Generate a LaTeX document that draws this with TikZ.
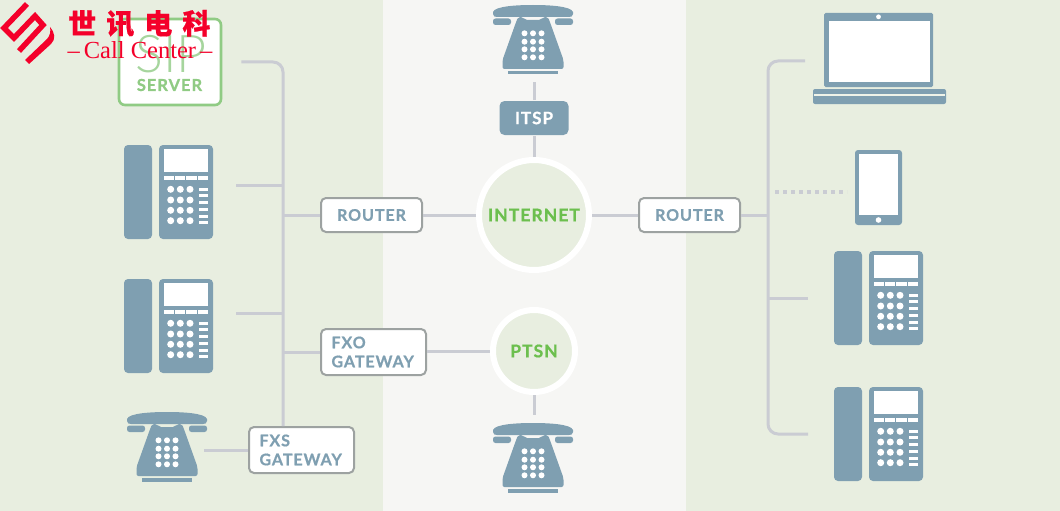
\documentclass[tikz,border=0pt]{standalone}
\usepackage{fontspec}
\setmainfont{Lato}
\newfontfamily\lblfont[LetterSpace=6, BoldFeatures={FakeBold=0.8}]{Lato}
\newfontfamily\lightfont{Lato Light}
\newfontfamily\cjkfont[LetterSpace=36, BoldFeatures={FakeBold=0.6}]{Noto Sans CJK SC}
\newfontfamily\serffont{Liberation Serif}
\usetikzlibrary{calc, positioning}
\definecolor{ccband}{HTML}{E8EEE0}
\definecolor{ccmid}{HTML}{F6F6F4}
\definecolor{ccwire}{HTML}{CACCD3}
\definecolor{ccslate}{HTML}{7F9FB1}
\definecolor{ccedge}{HTML}{9DA2A1}
\definecolor{ccgreen}{HTML}{6CBF4E}
\definecolor{ccsip}{HTML}{90CB84}
\definecolor{cclogo}{HTML}{F4002A}
\tikzset{
  wire/.style={draw=ccwire, line width=3pt},
  dotwire/.style={wire, line width=3.5pt, dash pattern=on 4pt off 4pt},
  box/.style={rectangle, rounded corners=5pt, draw=ccedge, fill=white, line width=2pt,
    inner sep=0pt, font=\lblfont\bfseries\fontsize{16}{19}\selectfont, text=ccslate},
  routerbox/.style={box, minimum width=101pt, minimum height=34pt},
  gatebox/.style={box, minimum width=105pt, minimum height=46pt, text width=84pt, align=left},
  cloud/.style={circle, draw=white, fill=ccband, line width=6pt, inner sep=0pt,
    font=\lblfont\bfseries\fontsize{17.5}{20}\selectfont, text=ccgreen},
  slot/.style={rectangle, inner sep=0pt, outer sep=0pt},
  deskslot/.style={slot, minimum width=89pt, minimum height=94pt},
  oldslot/.style={slot, minimum width=80pt, minimum height=70pt},
  deskphone/.pic={
    \fill[ccslate, rounded corners=4pt] (0,0) rectangle (28,94);
    \fill[ccslate, rounded corners=4pt] (35,0) rectangle (89,94);
    \fill[white] (40,4) rectangle (84,27);
    \foreach \k in {0,1,2,3} {
      \fill[white] (40+11.2*\k,31) rectangle +(10.2,4);
    }
    \foreach \r in {44.3,55,65.3,75.7} {
      \foreach \c in {46.7,56.3,66} {
        \fill[white] (\c,\r) circle (3.5);
      }
    }
    \foreach \r in {44,50.5,57,64,71,77} {
      \fill[white] (75,\r-1.5) rectangle +(9,3);
    }
  },
  oldphone/.pic={
    % handset
    \fill[ccslate] (-40,7) .. controls (-38,1) and (-15,0) .. (0,0)
      .. controls (15,0) and (38,1) .. (40,7) -- (40,9) .. controls (40,11.5) and (38,12) .. (36,12)
      -- (-36,12) .. controls (-38,12) and (-40,11.5) .. (-40,9) -- cycle;
    \fill[ccslate, rounded corners=2.5pt] (-40,13.5) rectangle (-22,20);
    \fill[ccslate, rounded corners=2.5pt] (22,13.5) rectangle (40,20);
    % body and foot
    \fill[ccslate, rounded corners=2pt] (-15,12) -- (-10,12) -- (-8,15) -- (8,15) -- (10,12) -- (15,12)
      -- (18,20) -- (30.5,55) -- (30.5,64) -- (-30.5,64) -- (-30.5,55) -- (-18,20) -- cycle;
    \fill[ccslate] (-25,66) rectangle (25,69.5);
    \foreach \r in {28.3,36.7,44.3,52.3} {
      \foreach \c in {-8.5,0,8.5} {
        \fill[white] (\c,\r) circle (3);
      }
    }
  },
}

\begin{document}
\begin{tikzpicture}[x=1pt, y=-1pt]
\useasboundingbox (0,0) rectangle (1060,511);

% ---- bands
\fill[ccband] (0,0) rectangle (383,511);
\fill[ccmid] (383,0) rectangle (686,511);
\fill[ccband] (686,0) rectangle (1060,511);

% ---- desk phones and old phones
\foreach \name/\x/\y in {deskA/168.5/192, deskB/168.5/326, deskC/878.5/298, deskD/878.5/434} {
  \node[deskslot] (\name) at (\x,\y) {};
  \pic at (\name.north west) {deskphone};
}
\foreach \name/\x/\y in {oldA/533/40, oldB/533/458, oldC/167/447} {
  \node[oldslot] (\name) at (\x,\y) {};
  \pic at (\name.north) {oldphone};
}

% ---- sip server
\node[rectangle, rounded corners=6pt, draw=ccsip, fill=white, line width=2.6pt,
  minimum width=102pt, minimum height=86pt] (sip) at (170,62) {};
\node[font=\lightfont\fontsize{52}{52}\selectfont, text=ccsip!80, inner sep=0pt] (sipword) at (171,54) {SIP};
\node[font=\lblfont\bfseries\fontsize{16.5}{19}\selectfont, text=ccsip, inner sep=0pt] (sipsub) at (169.5,85) {SERVER};

% ---- laptop and tablet
\node[slot, minimum width=133pt, minimum height=92pt] (laptop) at (879.5,58) {};
\fill[ccslate, rounded corners=1.5pt] ($(laptop.north west)+(11,1)$) rectangle +(109,74);
\fill[white] ($(laptop.north west)+(16,9)$) rectangle +(101,61);
\fill[white] ($(laptop.north west)+(65.5,4.8)$) circle (2.4);
\fill[ccslate, rounded corners=2pt] ($(laptop.south west)+(0,-15)$) rectangle +(133,15);
\fill[ccband!70!white] ($(laptop.south west)+(1,-10.5)$) rectangle +(131,2);
\node[slot, minimum width=47pt, minimum height=75pt] (tablet) at (878.5,187.5) {};
\fill[ccslate, rounded corners=3pt] (tablet.north west) rectangle (tablet.south east);
\fill[white] ($(tablet.north west)+(4,4)$) rectangle +(39,61);
\fill[white] ($(tablet.south)+(0,-5)$) circle (2.8);

% ---- boxes and clouds
\node[routerbox] (routerL) at (371.5,215) {ROUTER};
\node[routerbox] (routerR) at (689.5,215) {ROUTER};
\node[gatebox] (fxo) at (373.5,352) {FXO\\GATEWAY};
\node[gatebox] (fxs) at (301.5,450) {FXS\\GATEWAY};
\node[box, draw=none, fill=ccslate, text=white, font=\lblfont\bfseries\fontsize{17}{20}\selectfont,
  minimum width=69pt, minimum height=34pt] (itsp) at (534,118) {ITSP};
\node[cloud, minimum size=110pt] (internet) at (534,215) {INTERNET};
\node[cloud, minimum size=82pt] (ptsn) at (534,351) {PTSN};

% ---- left trunk
\coordinate (trunkL) at (283,215);
\coordinate (stubA) at ([xshift=23pt, yshift=7pt]deskA.east);
\coordinate (stubB) at ([xshift=23pt, yshift=13pt]deskB.east);
\draw[wire, rounded corners=10pt] ([xshift=19pt]sip.east) -- (trunkL |- sip.east) -- (trunkL |- fxs.north);
\foreach \a in {stubA, stubB} {
  \draw[wire] (\a) -- (trunkL |- \a);
}
\draw[wire] (trunkL) -- (routerL);
\draw[wire] (trunkL |- fxo.west) -- (fxo.west);
\coordinate (stubC) at ($(oldC.east |- fxs.west)+(-3,0)$);
\draw[wire] (stubC) -- (fxs.west);

% ---- centre column
\draw[wire] (routerL) -- (internet);
\draw[wire] (internet) -- (routerR);
\draw[wire] (fxo.east |- ptsn.west) -- (ptsn.west);
\draw[wire] (internet.north) -- (itsp.south);
\coordinate (stubTop) at ($(itsp.north |- oldA.south)+(0,7)$);
\coordinate (stubLow) at ($(ptsn.south |- oldB.north)+(0,-8)$);
\draw[wire] (itsp.north) -- (stubTop);
\draw[wire] (ptsn.south) -- (stubLow);

% ---- right trunk
\coordinate (trunkR) at (768,215);
\coordinate (stubD) at ([xshift=-26pt]deskC.west);
\coordinate (stubE) at ([xshift=-8pt, yshift=-3pt]laptop.west);
\coordinate (stubF) at ([xshift=-26pt]deskD.west);
\coordinate (stubG) at ([xshift=-8pt, yshift=-4.5pt]tablet.west);
\draw[wire] (routerR) -- (trunkR);
\draw[wire, rounded corners=10pt] (stubE) -- (trunkR |- stubE) -- (trunkR |- stubF) -- (stubF);
\draw[wire] (trunkR |- stubD) -- (stubD);
\draw[dotwire] ($(trunkR |- stubG)+(7,0)$) -- (stubG);

% ---- logo
\draw[cclogo, line width=5.5pt, miter limit=6] (27,4) -- (4,28) -- (14,38) -- (35,16) -- (43,25) -- (19,51);
\fill[cclogo] (50,27) .. controls (55,33) and (56,39) .. (51,44) -- (29,64) -- (25,60)
  -- (47,39) .. controls (50,36) and (51,31) .. cycle;
\node[font=\cjkfont\bfseries\fontsize{28}{28}\selectfont, text=cclogo, inner sep=0pt, anchor=west] (logocn) at (68,23.5) {世讯电科};
\node[font=\serffont\fontsize{24.5}{24.5}\selectfont, text=cclogo, inner sep=0pt] (logoen) at (140,50) {–\,Call Center\,–};

\end{tikzpicture}
\end{document}
